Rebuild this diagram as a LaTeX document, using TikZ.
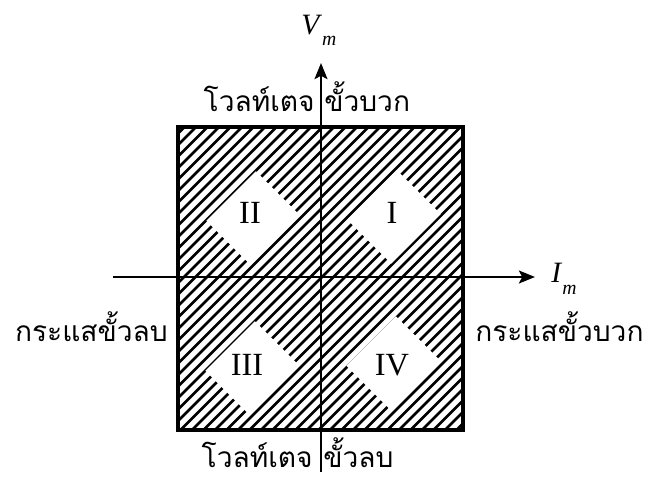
\documentclass[tikz,border=0pt]{standalone}
\usepackage{fontspec}
\setmainfont{Liberation Serif}
\newfontfamily\thaifont[Script=Thai]{Loma}
\usetikzlibrary{arrows.meta}

\begin{document}
\begin{tikzpicture}[x=0.025cm, y=0.025cm, >={Stealth[length=0.4cm, width=0.32cm, inset=0.08cm]},
  thai/.style={font=\thaifont\fontsize{20}{24}\selectfont, inner sep=0pt},
  numeral/.style={font=\fontsize{23}{26}\selectfont, inner sep=0pt},
  axislabel/.style={font=\fontsize{21}{24}\selectfont, inner sep=0pt},
  hatch/.style={line width=1.9pt},
  axis/.style={line width=1.8pt}]
\useasboundingbox (0,0) rectangle (653,480);
% hatched square
\begin{scope}
  \clip (178,50) rectangle (463,353);
  \foreach \c in {-418,-406.5,...,185}
    \draw[hatch] (150,150+\c) -- ++(350,350);
\end{scope}
% clear windows round the quadrant numbers
\foreach \cx/\cy in {394/263, 253/262, 252/112, 393/117}
  \fill[white, rotate around={45:(\cx,\cy)}] (\cx-35,\cy-31) rectangle (\cx+35,\cy+31);
\draw[line width=2.2pt] (178,50) rectangle (463,353);
\node[numeral] (q1) at (392,267) {I};
\node[numeral] (q2) at (250,267) {II};
\node[numeral] (q3) at (247,115) {III};
\node[numeral] (q4) at (392,115) {IV};
% axes
\coordinate (vbot) at (321,8);
\coordinate (vtop) at (321,417);
\coordinate (hleft) at (113,203);
\coordinate (hright) at (535,203);
\draw[axis, ->] (hleft) -- (hright);
\draw[axis, ->] (vbot) -- (vtop);
\node[axislabel, anchor=base west] (vm) at (301,445) {\textit{V}\raisebox{-0.35em}{\fontsize{14}{14}\selectfont\textit{m}}};
\node[axislabel, anchor=base west] (im) at (551,197) {\textit{I}\raisebox{-0.4em}{\fontsize{14}{14}\selectfont\textit{m}}};
% quadrant captions
\node[thai, anchor=base east] (vposl) at (315,368) {โวลท์เตจ};
\node[thai, anchor=base west] (vposr) at (324,368) {ขั้วบวก};
\node[thai, anchor=base east] (vnegl) at (313,12) {โวลท์เตจ};
\node[thai, anchor=base west] (vnegr) at (323,12) {ขั้วลบ};
\node[thai, anchor=base east] (ineg) at (168,138) {กระแสขั้วลบ};
\node[thai, anchor=base west] (ipos) at (475,138) {กระแสขั้วบวก};
\end{tikzpicture}
\end{document}
